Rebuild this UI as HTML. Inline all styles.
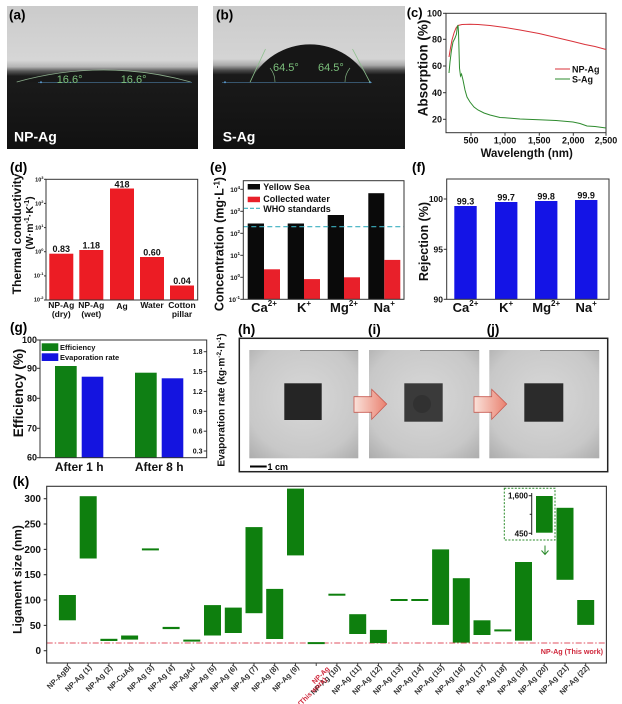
<!DOCTYPE html>
<html><head><meta charset="utf-8"><style>
html,body{margin:0;padding:0;background:#fff;}
svg{display:block;}
</style></head><body>
<svg width="622" height="704" viewBox="0 0 622 704" xmlns="http://www.w3.org/2000/svg" font-family="'Liberation Sans', Arial, sans-serif" font-weight="bold">
<defs>
<linearGradient id="gA" x1="0" y1="0" x2="0" y2="1">
<stop offset="0" stop-color="#cbcbcb"/><stop offset="0.38" stop-color="#d6d6d6"/><stop offset="0.425" stop-color="#b5b5b5"/><stop offset="0.455" stop-color="#5a5a5a"/><stop offset="0.49" stop-color="#1b1b1b"/><stop offset="1" stop-color="#111"/>
</linearGradient>
<linearGradient id="gB" x1="0" y1="0" x2="0" y2="1">
<stop offset="0" stop-color="#cbcbcb"/><stop offset="0.37" stop-color="#d4d4d4"/><stop offset="0.415" stop-color="#a8a8a8"/><stop offset="0.45" stop-color="#4a4a4a"/><stop offset="0.48" stop-color="#1a1a1a"/><stop offset="1" stop-color="#111"/>
</linearGradient>
<radialGradient id="gP" cx="0.5" cy="0.45" r="0.75">
<stop offset="0" stop-color="#d8d8d8"/><stop offset="0.7" stop-color="#c8c8c8"/><stop offset="1" stop-color="#ababab"/>
</radialGradient>
<linearGradient id="gAr" x1="0" y1="0" x2="1" y2="0">
<stop offset="0" stop-color="#fae2da"/><stop offset="1" stop-color="#e9806f"/>
</linearGradient>
</defs>

<!-- (a) photo -->
<rect x="7" y="6" width="191" height="143" fill="url(#gA)"/>
<path d="M16.7,82 A321.4,321.4 0 0 1 190.7,82 Z" fill="#181818"/>
<path d="M16.7,82 A321.4,321.4 0 0 1 190.7,82" fill="none" stroke="#a6d0a6" stroke-width="0.8" opacity="0.8"/>
<line x1="38" y1="82.3" x2="192" y2="82.3" stroke="#4a7aa0" stroke-width="0.7"/>
<circle cx="41" cy="82.3" r="1" fill="#5a9ad0"/>
<text x="56.7" y="83" font-size="11" font-weight="normal" fill="#7cc07c">16.6°</text>
<text x="120.7" y="83" font-size="11" font-weight="normal" fill="#7cc07c">16.6°</text>
<text x="14" y="141.5" font-size="14" fill="#fff">NP-Ag</text>
<text x="9" y="19.5" font-size="13.5" fill="#000">(a)</text>

<!-- (b) photo -->
<rect x="213" y="6" width="192" height="143" fill="url(#gB)"/>
<path d="M250,82.3 A66.4,66.4 0 0 1 370,82.3 Z" fill="#161616"/>
<line x1="222" y1="82.3" x2="372" y2="82.3" stroke="#4a7aa0" stroke-width="0.7"/>
<circle cx="225" cy="82.3" r="1" fill="#5a9ad0"/>
<circle cx="370" cy="82.3" r="1" fill="#5a9ad0"/>
<line x1="250" y1="82.3" x2="265.5" y2="49" stroke="#8cc08c" stroke-width="0.8"/>
<line x1="370" y1="82.3" x2="352.5" y2="49" stroke="#8cc08c" stroke-width="0.8"/>
<path d="M275,82 A22,22 0 0 0 270,68" fill="none" stroke="#8cc08c" stroke-width="0.6"/>
<path d="M345,82 A22,22 0 0 1 350,68" fill="none" stroke="#8cc08c" stroke-width="0.6"/>
<text x="273" y="71" font-size="11" font-weight="normal" fill="#7cc07c">64.5°</text>
<text x="318" y="71" font-size="11" font-weight="normal" fill="#7cc07c">64.5°</text>
<text x="222.7" y="141.5" font-size="14" fill="#fff">S-Ag</text>
<text x="216" y="19.5" font-size="13.5" fill="#000">(b)</text>

<!-- (c) -->
<text x="406.7" y="17" font-size="13" fill="#000">(c)</text>
<g stroke="#333" stroke-width="1">
<rect x="446" y="13.3" width="160" height="119.4" fill="none"/>
<line x1="443" y1="13.3" x2="446" y2="13.3"/><line x1="443" y1="39.3" x2="446" y2="39.3"/><line x1="443" y1="66" x2="446" y2="66"/><line x1="443" y1="92.7" x2="446" y2="92.7"/><line x1="443" y1="119.3" x2="446" y2="119.3"/>
<line x1="471" y1="132.7" x2="471" y2="135.7"/><line x1="505" y1="132.7" x2="505" y2="135.7"/><line x1="539.3" y1="132.7" x2="539.3" y2="135.7"/><line x1="573.3" y1="132.7" x2="573.3" y2="135.7"/><line x1="606" y1="132.7" x2="606" y2="135.7"/>
</g>
<g font-size="9" fill="#111" text-anchor="end">
<text x="442" y="16.5">100</text><text x="442" y="42.5">80</text><text x="442" y="69.2">60</text><text x="442" y="95.9">40</text><text x="442" y="122.5">20</text>
</g>
<g font-size="9" fill="#111" text-anchor="middle">
<text x="471" y="143.5">500</text><text x="505" y="143.5">1,000</text><text x="539.3" y="143.5">1,500</text><text x="573.3" y="143.5">2,000</text><text x="606" y="143.5">2,500</text>
</g>
<text x="526.7" y="157" font-size="11.5" text-anchor="middle" fill="#111">Wavelength (nm)</text>
<text transform="translate(427.5,68) rotate(-90)" font-size="13.5" text-anchor="middle" fill="#111">Absorption (%)</text>
<polyline fill="none" stroke="#d9323a" stroke-width="1" points="449,57 450.5,48 452,40 454,33 456,28 458,25.5 462,24.5 470,24.2 478,24.5 490,25.5 505,27.5 520,30 539,33.5 556,37.5 573,41.5 585,44.5 595,46.5 606,49.5"/>
<polyline fill="none" stroke="#2e8b2e" stroke-width="1" points="449,73 450,62 451.5,50 453,42 455,38 456.5,34 457.3,27 458,25 458.5,32 459,50 459.5,68 460.5,76 461.5,74 463,80 465,90 467,97 470,102 474,107 478,110 484,113 490,115 500,117.5 505,117.8 520,119 539,119.8 556,120.5 573,122 580,123.5 587,126 595,126.5 606,128"/>
<line x1="555" y1="69" x2="570" y2="69" stroke="#d9323a" stroke-width="1"/>
<line x1="555" y1="79" x2="570" y2="79" stroke="#2e8b2e" stroke-width="1"/>
<text x="572" y="72.5" font-size="9" fill="#111">NP-Ag</text>
<text x="572" y="82.5" font-size="9" fill="#111">S-Ag</text>

<!-- (d) -->
<text x="10" y="172" font-size="13.5" fill="#000">(d)</text>
<g fill="#ec1c24">
<rect x="49.3" y="253.7" width="24" height="46.3"/>
<rect x="79.3" y="250" width="24" height="50"/>
<rect x="110" y="188.5" width="24" height="111.5"/>
<rect x="140" y="257" width="24" height="43"/>
<rect x="170" y="285.5" width="24" height="14.5"/>
</g>
<g stroke="#333" stroke-width="1">
<rect x="46" y="179.3" width="151.7" height="120.7" fill="none"/>
<line x1="44" y1="179.3" x2="46" y2="179.3"/><line x1="44" y1="203.4" x2="46" y2="203.4"/><line x1="44" y1="227.6" x2="46" y2="227.6"/><line x1="44" y1="251.7" x2="46" y2="251.7"/><line x1="44" y1="275.9" x2="46" y2="275.9"/><line x1="44" y1="300" x2="46" y2="300"/>
</g>
<g font-size="5.5" fill="#111" text-anchor="end">
<text x="43.5" y="181.5">10<tspan font-size="4" dy="-2.5">3</tspan></text>
<text x="43.5" y="205.5">10<tspan font-size="4" dy="-2.5">2</tspan></text>
<text x="43.5" y="229.5">10<tspan font-size="4" dy="-2.5">1</tspan></text>
<text x="43.5" y="253.5">10<tspan font-size="4" dy="-2.5">0</tspan></text>
<text x="43.5" y="277.5">10<tspan font-size="4" dy="-2.5">-1</tspan></text>
<text x="43.5" y="301.5">10<tspan font-size="4" dy="-2.5">-2</tspan></text>
</g>
<g font-size="9" fill="#111" text-anchor="middle">
<text x="61.3" y="252">0.83</text><text x="91.3" y="248.5">1.18</text><text x="122" y="187.5">418</text><text x="152" y="255.5">0.60</text><text x="182" y="284">0.04</text>
</g>
<g font-size="8.5" fill="#111" text-anchor="middle">
<text x="61.3" y="308">NP-Ag</text><text x="61.3" y="317">(dry)</text>
<text x="91.3" y="308">NP-Ag</text><text x="91.3" y="317">(wet)</text>
<text x="122" y="309">Ag</text>
<text x="152" y="308">Water</text>
<text x="182" y="308">Cotton</text><text x="182" y="317">pillar</text>
</g>
<text transform="translate(21,234) rotate(-90)" font-size="12" text-anchor="middle" fill="#111">Thermal conductivity</text>
<text transform="translate(33,223) rotate(-90)" font-size="10.5" text-anchor="middle" fill="#111">(W·m<tspan font-size="7" dy="-4">-1</tspan><tspan dy="4">·K</tspan><tspan font-size="7" dy="-4">-1</tspan><tspan dy="4">)</tspan></text>

<!-- (e) -->
<text x="210" y="172" font-size="13.5" fill="#000">(e)</text>
<g fill="#0a0a0a">
<rect x="247.7" y="223.5" width="16.3" height="75.8"/>
<rect x="287.7" y="223.5" width="16.3" height="75.8"/>
<rect x="327.7" y="215" width="16.3" height="84.3"/>
<rect x="368.3" y="193.2" width="16" height="106.1"/>
</g>
<g fill="#e8202a">
<rect x="264" y="269.3" width="16" height="30"/>
<rect x="304" y="279.1" width="16" height="20.2"/>
<rect x="344" y="277.3" width="16" height="22"/>
<rect x="384.3" y="259.9" width="16" height="39.4"/>
</g>
<line x1="243.3" y1="226.7" x2="404" y2="226.7" stroke="#3cb0c0" stroke-width="1.2" stroke-dasharray="5,3"/>
<g stroke="#333" stroke-width="1">
<rect x="243.3" y="180.7" width="160.7" height="118.6" fill="none"/>
<line x1="240.3" y1="189.3" x2="243.3" y2="189.3"/><line x1="240.3" y1="211.3" x2="243.3" y2="211.3"/><line x1="240.3" y1="233.3" x2="243.3" y2="233.3"/><line x1="240.3" y1="255.3" x2="243.3" y2="255.3"/><line x1="240.3" y1="277.3" x2="243.3" y2="277.3"/><line x1="240.3" y1="299.3" x2="243.3" y2="299.3"/>
</g>
<g font-size="6.5" fill="#111" text-anchor="end">
<text x="240" y="192">10<tspan font-size="4.5" dy="-3">4</tspan></text>
<text x="240" y="214">10<tspan font-size="4.5" dy="-3">3</tspan></text>
<text x="240" y="236">10<tspan font-size="4.5" dy="-3">2</tspan></text>
<text x="240" y="258">10<tspan font-size="4.5" dy="-3">1</tspan></text>
<text x="240" y="280">10<tspan font-size="4.5" dy="-3">0</tspan></text>
<text x="240" y="302">10<tspan font-size="4.5" dy="-3">-1</tspan></text>
</g>
<rect x="247.7" y="184" width="12.3" height="5.5" fill="#0a0a0a"/>
<rect x="247.7" y="196.7" width="12.3" height="5.5" fill="#e8202a"/>
<line x1="244" y1="208.3" x2="262" y2="208.3" stroke="#3cb0c0" stroke-width="1.2" stroke-dasharray="4,2"/>
<g font-size="9" fill="#111">
<text x="263.3" y="190">Yellow Sea</text><text x="263.3" y="202">Collected water</text><text x="263.3" y="212">WHO standards</text>
</g>
<g font-size="13" fill="#111" text-anchor="middle">
<text x="264" y="312">Ca<tspan font-size="8" dy="-6">2+</tspan></text>
<text x="304" y="312">K<tspan font-size="8" dy="-6">+</tspan></text>
<text x="344" y="312">Mg<tspan font-size="8" dy="-6">2+</tspan></text>
<text x="384.3" y="312">Na<tspan font-size="8" dy="-6">+</tspan></text>
</g>
<text transform="translate(223.3,244) rotate(-90)" font-size="12.5" text-anchor="middle" fill="#111">Concentration (mg·L<tspan font-size="8" dy="-4">-1</tspan><tspan dy="4">)</tspan></text>

<!-- (f) -->
<text x="412" y="172" font-size="13.5" fill="#000">(f)</text>
<g fill="#1414e6">
<rect x="454.3" y="206" width="22.4" height="93.3"/>
<rect x="495" y="202" width="22.4" height="97.3"/>
<rect x="535" y="201" width="22.4" height="98.3"/>
<rect x="575" y="200" width="22.4" height="99.3"/>
</g>
<g stroke="#333" stroke-width="1">
<rect x="446.7" y="179" width="162.3" height="120.3" fill="none"/>
<line x1="443.7" y1="199" x2="446.7" y2="199"/><line x1="443.7" y1="249.3" x2="446.7" y2="249.3"/><line x1="443.7" y1="299.3" x2="446.7" y2="299.3"/>
</g>
<g font-size="8.5" fill="#111" text-anchor="end">
<text x="443" y="202">100</text><text x="443" y="252.3">95</text><text x="443" y="302.3">90</text>
</g>
<g font-size="9" fill="#111" text-anchor="middle">
<text x="465.5" y="204.5">99.3</text><text x="506.2" y="200.5">99.7</text><text x="546.2" y="199.5">99.8</text><text x="586.2" y="198.5">99.9</text>
</g>
<g font-size="13" fill="#111" text-anchor="middle">
<text x="465.5" y="312">Ca<tspan font-size="8" dy="-6">2+</tspan></text>
<text x="506.2" y="312">K<tspan font-size="8" dy="-6">+</tspan></text>
<text x="546.2" y="312">Mg<tspan font-size="8" dy="-6">2+</tspan></text>
<text x="586.2" y="312">Na<tspan font-size="8" dy="-6">+</tspan></text>
</g>
<text transform="translate(428,241.5) rotate(-90)" font-size="12.5" text-anchor="middle" fill="#111">Rejection (%)</text>

<!-- (g) -->
<text x="10" y="332" font-size="13.5" fill="#000">(g)</text>
<rect x="55" y="366" width="21.7" height="91.7" fill="#0f7f14"/>
<rect x="81.7" y="376.7" width="21.6" height="81" fill="#1414e0"/>
<rect x="135" y="372.7" width="21.7" height="85" fill="#0f7f14"/>
<rect x="161.7" y="378.3" width="21.6" height="79.4" fill="#1414e0"/>
<g stroke="#333" stroke-width="1">
<rect x="40" y="340" width="166.7" height="117.7" fill="none"/>
<line x1="37" y1="340" x2="40" y2="340"/><line x1="37" y1="368.3" x2="40" y2="368.3"/><line x1="37" y1="398.3" x2="40" y2="398.3"/><line x1="37" y1="428.3" x2="40" y2="428.3"/><line x1="37" y1="457.7" x2="40" y2="457.7"/>
<line x1="203.7" y1="351.7" x2="206.7" y2="351.7"/><line x1="203.7" y1="371.6" x2="206.7" y2="371.6"/><line x1="203.7" y1="391.4" x2="206.7" y2="391.4"/><line x1="203.7" y1="411.3" x2="206.7" y2="411.3"/><line x1="203.7" y1="431.2" x2="206.7" y2="431.2"/><line x1="203.7" y1="451" x2="206.7" y2="451"/>
</g>
<g font-size="9" fill="#111" text-anchor="end">
<text x="37" y="343">100</text><text x="37" y="371.3">90</text><text x="37" y="401.3">80</text><text x="37" y="431.3">70</text><text x="37" y="460.7">60</text>
</g>
<g font-size="7" fill="#111" text-anchor="end">
<text x="202.5" y="354.2">1.8</text><text x="202.5" y="374.1">1.5</text><text x="202.5" y="393.9">1.2</text><text x="202.5" y="413.8">0.9</text><text x="202.5" y="433.7">0.6</text><text x="202.5" y="453.5">0.3</text>
</g>
<rect x="41.7" y="343.3" width="16.6" height="7.7" fill="#0f7f14"/>
<rect x="41.7" y="353.3" width="16.6" height="7.7" fill="#1414e0"/>
<text x="60" y="350" font-size="7.5" fill="#111">Efficiency</text>
<text x="60" y="360" font-size="7.5" fill="#111">Evaporation rate</text>
<text x="79.2" y="471" font-size="12" text-anchor="middle" fill="#111">After 1 h</text>
<text x="159.2" y="471" font-size="12" text-anchor="middle" fill="#111">After 8 h</text>
<text transform="translate(23,393) rotate(-90)" font-size="13.5" text-anchor="middle" fill="#111">Efficiency (%)</text>
<text transform="translate(224.5,400) rotate(-90)" font-size="10" text-anchor="middle" fill="#111">Evaporation rate (kg·m<tspan font-size="6.5" dy="-3.5">-2</tspan><tspan dy="3.5">·h</tspan><tspan font-size="6.5" dy="-3.5">-1</tspan><tspan dy="3.5">)</tspan></text>

<!-- (h)(i)(j) -->
<text x="238" y="334" font-size="13.5" fill="#000">(h)</text>
<text x="368" y="334" font-size="13.5" fill="#000">(i)</text>
<text x="486.7" y="334" font-size="13.5" fill="#000">(j)</text>
<rect x="239.3" y="338.3" width="368.4" height="133.4" fill="#fff" stroke="#222" stroke-width="1.5"/>
<rect x="249.3" y="350" width="109" height="108.3" fill="url(#gP)"/>
<rect x="369" y="350" width="110.3" height="108.3" fill="url(#gP)"/>
<rect x="489.3" y="350" width="110" height="108.3" fill="url(#gP)"/>
<line x1="300" y1="350.5" x2="358" y2="350.5" stroke="#8a8a8a" stroke-width="1"/>
<line x1="420" y1="350.5" x2="479" y2="350.5" stroke="#8a8a8a" stroke-width="1"/>
<line x1="540" y1="350.5" x2="599" y2="350.5" stroke="#8a8a8a" stroke-width="1"/>
<rect x="284.3" y="383.3" width="37.4" height="36.7" fill="#252525"/>
<rect x="404.3" y="383.3" width="38.4" height="38.4" fill="#3a3a3a"/>
<circle cx="422" cy="404" r="9" fill="#2e2e2e" opacity="0.7"/>
<rect x="524.3" y="383.3" width="39" height="38.4" fill="#2b2b2b"/>
<path d="M354,396.7 H371.7 V389.3 L386.7,404 L371.7,419.3 V412.3 H354 Z" fill="url(#gAr)" stroke="#c85a50" stroke-width="0.8"/>
<path d="M474,396.7 H491.7 V389.3 L506.7,404 L491.7,419.3 V412.3 H474 Z" fill="url(#gAr)" stroke="#c85a50" stroke-width="0.8"/>
<line x1="250" y1="466.5" x2="266.7" y2="466.5" stroke="#000" stroke-width="2"/>
<text x="267.5" y="470" font-size="9" fill="#000">1 cm</text>

<!-- (k) -->
<text x="12.7" y="486" font-size="13.5" fill="#000">(k)</text>
<line x1="46.7" y1="643" x2="606.4" y2="643" stroke="#e05060" stroke-width="0.9" stroke-dasharray="6,2,1.5,2"/>
<g fill="#0e7f0e">
<rect x="58.9" y="595" width="17" height="25.3"/>
<rect x="79.7" y="496.2" width="17" height="62.3"/>
<rect x="100.4" y="638.8" width="17" height="2.2"/>
<rect x="121.1" y="635.5" width="17" height="4.1"/>
<rect x="141.9" y="548.4" width="17" height="2"/>
<rect x="162.6" y="626.9" width="17" height="2.2"/>
<rect x="183.3" y="639.6" width="17" height="2"/>
<rect x="204" y="605.1" width="17" height="30.4"/>
<rect x="224.8" y="607.6" width="17" height="25.4"/>
<rect x="245.5" y="527.1" width="17" height="86.1"/>
<rect x="266.2" y="588.9" width="17" height="50.1"/>
<rect x="287" y="488.6" width="17" height="66.8"/>
<rect x="307.7" y="642.1" width="17" height="2"/>
<rect x="328.4" y="593.7" width="17" height="2"/>
<rect x="349.2" y="614.2" width="17" height="19.8"/>
<rect x="369.9" y="629.9" width="17" height="13.2"/>
<rect x="390.6" y="599" width="17" height="2"/>
<rect x="411.3" y="599" width="17" height="2"/>
<rect x="432.1" y="549.4" width="17" height="75.5"/>
<rect x="452.8" y="578.2" width="17" height="64.4"/>
<rect x="473.5" y="620.3" width="17" height="14.7"/>
<rect x="494.3" y="629.4" width="17" height="2"/>
<rect x="515" y="562" width="17" height="78.6"/>
<rect x="556.5" y="507.8" width="17" height="72"/>
<rect x="577.2" y="600" width="17" height="24.9"/>
</g>
<g stroke="#333" stroke-width="1.1">
<rect x="46.7" y="486.3" width="559.7" height="176.7" fill="none"/>
<line x1="43.7" y1="650.7" x2="46.7" y2="650.7"/><line x1="43.7" y1="625.4" x2="46.7" y2="625.4"/><line x1="43.7" y1="600" x2="46.7" y2="600"/><line x1="43.7" y1="574.7" x2="46.7" y2="574.7"/><line x1="43.7" y1="549.4" x2="46.7" y2="549.4"/><line x1="43.7" y1="524" x2="46.7" y2="524"/><line x1="43.7" y1="498.7" x2="46.7" y2="498.7"/>
</g>
<g stroke="#333" stroke-width="0.9">
<line x1="67.4" y1="663" x2="67.4" y2="666"/><line x1="88.2" y1="663" x2="88.2" y2="666"/><line x1="108.9" y1="663" x2="108.9" y2="666"/><line x1="129.6" y1="663" x2="129.6" y2="666"/><line x1="150.4" y1="663" x2="150.4" y2="666"/><line x1="171.1" y1="663" x2="171.1" y2="666"/><line x1="191.8" y1="663" x2="191.8" y2="666"/><line x1="212.5" y1="663" x2="212.5" y2="666"/><line x1="233.3" y1="663" x2="233.3" y2="666"/><line x1="254" y1="663" x2="254" y2="666"/><line x1="274.7" y1="663" x2="274.7" y2="666"/><line x1="295.5" y1="663" x2="295.5" y2="666"/><line x1="316.2" y1="663" x2="316.2" y2="666"/><line x1="336.9" y1="663" x2="336.9" y2="666"/><line x1="357.7" y1="663" x2="357.7" y2="666"/><line x1="378.4" y1="663" x2="378.4" y2="666"/><line x1="399.1" y1="663" x2="399.1" y2="666"/><line x1="419.8" y1="663" x2="419.8" y2="666"/><line x1="440.6" y1="663" x2="440.6" y2="666"/><line x1="461.3" y1="663" x2="461.3" y2="666"/><line x1="482" y1="663" x2="482" y2="666"/><line x1="502.8" y1="663" x2="502.8" y2="666"/><line x1="523.5" y1="663" x2="523.5" y2="666"/><line x1="544.2" y1="663" x2="544.2" y2="666"/><line x1="565" y1="663" x2="565" y2="666"/><line x1="585.7" y1="663" x2="585.7" y2="666"/>
</g>
<g font-size="10" fill="#111" text-anchor="end">
<text x="41" y="654.2">0</text><text x="41" y="628.9">50</text><text x="41" y="603.5">100</text><text x="41" y="578.2">150</text><text x="41" y="552.9">200</text><text x="41" y="527.5">250</text><text x="41" y="502.2">300</text>
</g>
<text transform="translate(21.5,579.5) rotate(-90)" font-size="12" text-anchor="middle" fill="#111">Ligament size (nm)</text>
<g font-size="7.5" fill="#333" text-anchor="end">
<text transform="translate(71.4,668) rotate(-45)">NP-AgBi</text>
<text transform="translate(92.2,668) rotate(-45)">NP-Ag (1)</text>
<text transform="translate(112.9,668) rotate(-45)">NP-Ag (2)</text>
<text transform="translate(133.6,668) rotate(-45)">NP-CuAg</text>
<text transform="translate(154.4,668) rotate(-45)">NP-Ag (3)</text>
<text transform="translate(175.1,668) rotate(-45)">NP-Ag (4)</text>
<text transform="translate(195.8,668) rotate(-45)">NP-AgAu</text>
<text transform="translate(216.5,668) rotate(-45)">NP-Ag (5)</text>
<text transform="translate(237.3,668) rotate(-45)">NP-Ag (6)</text>
<text transform="translate(258,668) rotate(-45)">NP-Ag (7)</text>
<text transform="translate(278.7,668) rotate(-45)">NP-Ag (8)</text>
<text transform="translate(299.5,668) rotate(-45)">NP-Ag (9)</text>
<text transform="translate(340.9,668) rotate(-45)">NP-Ag (10)</text>
<text transform="translate(361.7,668) rotate(-45)">NP-Ag (11)</text>
<text transform="translate(382.4,668) rotate(-45)">NP-Ag (12)</text>
<text transform="translate(403.1,668) rotate(-45)">NP-Ag (13)</text>
<text transform="translate(423.8,668) rotate(-45)">NP-Ag (14)</text>
<text transform="translate(444.6,668) rotate(-45)">NP-Ag (15)</text>
<text transform="translate(465.3,668) rotate(-45)">NP-Ag (16)</text>
<text transform="translate(486,668) rotate(-45)">NP-Ag (17)</text>
<text transform="translate(506.8,668) rotate(-45)">NP-Ag (18)</text>
<text transform="translate(527.5,668) rotate(-45)">NP-Ag (19)</text>
<text transform="translate(548.2,668) rotate(-45)">NP-Ag (20)</text>
<text transform="translate(569,668) rotate(-45)">NP-Ag (21)</text>
<text transform="translate(589.7,668) rotate(-45)">NP-Ag (22)</text>
</g>
<g font-size="7" fill="#d0283c" text-anchor="middle">
<text transform="translate(320.5,675) rotate(-45)" dy="2.5">NP-Ag</text>
<text transform="translate(312,691.5) rotate(-45)" dy="2.5">(This work)</text>
</g>
<text x="603" y="654" font-size="7.2" text-anchor="end" fill="#d0283c">NP-Ag (This work)</text>
<!-- inset -->
<rect x="504.3" y="488.3" width="50.7" height="51.7" fill="#fff" stroke="#2a8a2a" stroke-width="1" stroke-dasharray="2,1.5"/>
<line x1="531.7" y1="493" x2="531.7" y2="535" stroke="#222" stroke-width="1"/>
<g stroke="#222" stroke-width="1">
<line x1="528.7" y1="495.7" x2="531.7" y2="495.7"/><line x1="529.7" y1="514.3" x2="531.7" y2="514.3"/><line x1="528.7" y1="533.3" x2="531.7" y2="533.3"/>
</g>
<text x="528" y="498.7" font-size="8" text-anchor="end" fill="#111">1,600</text>
<text x="528" y="536.3" font-size="8" text-anchor="end" fill="#111">450</text>
<rect x="536" y="496" width="16.7" height="36.7" fill="#0e7f0e"/>
<line x1="545" y1="545.5" x2="545" y2="554" stroke="#2a8a2a" stroke-width="1"/>
<polyline points="541.5,550.5 545,554.5 548.5,550.5" fill="none" stroke="#2a8a2a" stroke-width="1"/>
</svg>
</body></html>
